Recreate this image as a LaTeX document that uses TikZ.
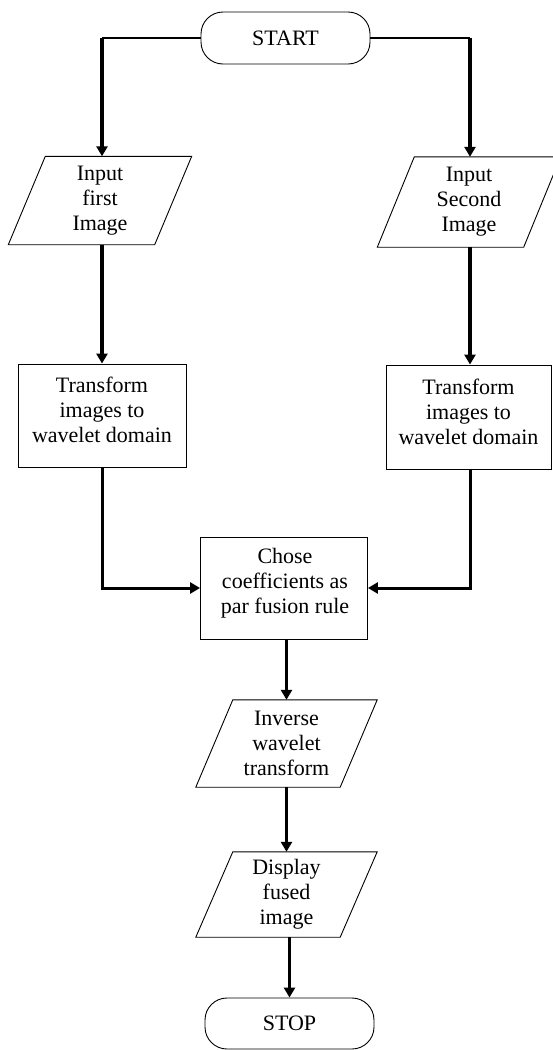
\documentclass[tikz,border=0pt]{standalone}
\usepackage{fontspec}
\setmainfont{Liberation Serif}
\usetikzlibrary{arrows.meta}
\begin{document}
\begin{tikzpicture}[x=1pt,y=-1pt,
  every node/.style={font=\fontsize{22}{25}\selectfont, align=center, inner sep=0pt},
  term/.style={draw, line width=0.9pt, rounded corners=22pt, minimum width=169pt, minimum height=52pt},
  procbox/.style={draw, line width=0.9pt, minimum width=#1, minimum height=103pt},
  iobox/.style={minimum width=146pt, minimum height=88pt},
  para/.style={line width=0.9pt},
  hl/.style={line width=2pt},
  vl/.style={line width=3.8pt},
  ml/.style={line width=3pt},
  tip/.style={-{Triangle[width=11pt,length=10pt]}},
]
\useasboundingbox (0,0) rectangle (552,1050);
\fill[white] (0,0) rectangle (552,1050);

% nodes
\node[term] (start) at (285.5,38) {START};
\node[iobox] (in1) at (100,200.5) {Input\\first\\Image};
\node[iobox, minimum height=90pt] (in2) at (469,202) {Input\\Second\\Image};
\node[procbox=168pt] (t1) at (102,415.5) {};
\node (t1txt) at (102,410) {Transform\\images to\\wavelet domain};
\node[procbox=165pt, minimum height=104pt] (t2) at (468.5,417) {};
\node (t2txt) at (468.5,411.5) {Transform\\images to\\wavelet domain};
\node[procbox=167pt, minimum height=102pt] (chose) at (284,588) {};
\node (chosetxt) at (285,583) {Chose\\coefficients as\\par fusion rule};
\node[iobox, minimum width=144pt, minimum height=87pt] (inv) at (286.5,743.5) {Inverse\\wavelet\\transform};
\node[iobox, minimum width=144pt, minimum height=85pt] (disp) at (286.5,894.5) {Display\\fused\\image};
\node[term, minimum height=51pt] (stop) at (289.5,1023.5) {STOP};

% parallelograms
\foreach \n in {in1,in2,inv,disp}{
  \draw[para] ([xshift=18.5pt]\n.north west) -- ([xshift=18.5pt]\n.north east)
    -- ([xshift=-18.5pt]\n.south east) -- ([xshift=-18.5pt]\n.south west) -- cycle;
}

% connectors
\coordinate (c1) at (102,38);
\coordinate (c2) at (470,38);
\draw[hl] (start.west) -- (c1);
\draw[vl,tip] (c1) -- (c1 |- in1.north);
\draw[hl] (start.east) -- (c2);
\draw[vl,tip] (c2) -- (c2 |- in2.north);

\draw[vl,tip] (in1.south -| t1.north) -- (t1.north);
\draw[vl,tip] (in2.south -| c2) -- (c2 |- t2.north);

\draw[ml,tip] (t1.south) |- (chose.west);
\draw[ml,tip] (t2.south -| c2) |- (chose.east);

\draw[vl,tip] (chose.south -| inv.north) -- (inv.north);
\draw[vl,tip] (inv.south) -- (disp.north);
\draw[vl,tip] (disp.south -| stop.north) -- (stop.north);
\end{tikzpicture}
\end{document}
